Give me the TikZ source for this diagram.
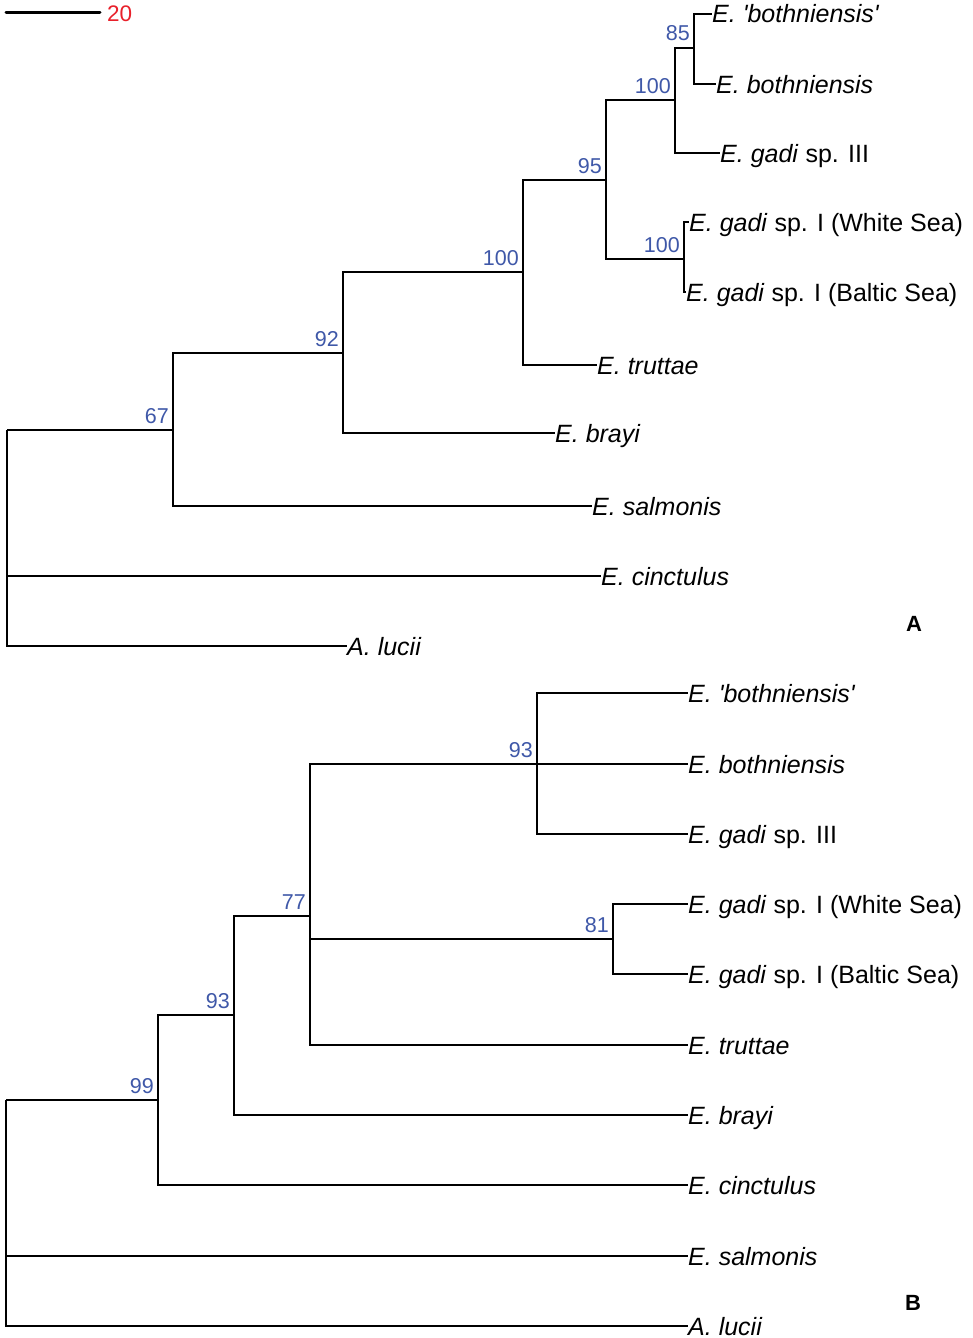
\documentclass[tikz,border=0pt]{standalone}
\usepackage{fontspec}
\setmainfont{Liberation Sans}[Ligatures=TeXOff]
\usepackage{xcolor}
\usepackage{tikz}
\definecolor{supblue}{HTML}{3F58A8}
\definecolor{barred}{HTML}{E8202A}
\tikzset{
	branch/.style={line width=1.3pt, black},
	taxon/.style={anchor=west, inner sep=0pt, text height=18pt, text depth=0pt, font=\fontsize{25}{28}\selectfont},
	support/.style={anchor=base east, inner sep=0pt, xshift=-4pt, yshift=7pt, text=supblue, font=\fontsize{21.5}{24}\selectfont},
	panel/.style={inner sep=0pt, font=\fontsize{22}{24}\selectfont\bfseries}
}

\begin{document}
\begin{tikzpicture}[x=1pt, y=-1pt]
		\useasboundingbox (0,0) rectangle (973,1338);

		\coordinate (barL) at (6,13);
		\coordinate (barR) at (100,13);
		\draw[line width=3pt, line cap=round] (barL) -- (barR);
		\node[anchor=base west, inner sep=0pt, text=barred, font=\fontsize{22.5}{24}\selectfont] (barlab) at (107,22) {20};

		\coordinate (rA) at (7,430);
		\coordinate (a67) at (173,430);
		\coordinate (a92) at (343,353);
		\coordinate (a100) at (523,272);
		\coordinate (a95) at (606,180);
		\coordinate (a100b) at (675,100);
		\coordinate (a85) at (694,48);
		\coordinate (a100c) at (684,259);

		\node[taxon] (tA1) at (712,14) {\textit{E. 'bothniensis'}};
		\node[taxon] (tA2) at (716,84) {\textit{E. bothniensis}};
		\node[taxon] (tA3) at (720,153) {\textit{E. gadi} sp. III};
		\node[taxon] (tA4) at (689,222) {\textit{E. gadi} sp. I (White Sea)};
		\node[taxon] (tA5) at (686,292) {\textit{E. gadi} sp. I (Baltic Sea)};
		\node[taxon] (tA6) at (597,365) {\textit{E. truttae}};
		\node[taxon] (tA7) at (555,433) {\textit{E. brayi}};
		\node[taxon] (tA8) at (592,506) {\textit{E. salmonis}};
		\node[taxon] (tA9) at (601,576) {\textit{E. cinctulus}};
		\node[taxon] (tA10) at (347,646) {\textit{A. lucii}};

		\foreach \p/\c in {rA/a67, a67/a92, a92/a100, a100/a95, a95/a100b, a95/a100c, a100b/a85}
			\draw[branch] (\p) |- (\c);
		\foreach \p/\c in {a85/tA1, a85/tA2, a100b/tA3, a100c/tA4, a100c/tA5, a100/tA6, a92/tA7, a67/tA8, rA/tA9, rA/tA10}
			\draw[branch] (\p) |- (\c.west);

		\node[support] (sA67) at (a67) {67};
		\node[support] (sA92) at (a92) {92};
		\node[support] (sA100) at (a100) {100};
		\node[support] (sA95) at (a95) {95};
		\node[support] (sA100b) at (a100b) {100};
		\node[support] (sA85) at (a85) {85};
		\node[support] (sA100c) at (a100c) {100};
		\node[panel] (panA) at (914,624) {A};

		\coordinate (rB) at (6,1100);
		\coordinate (b99) at (158,1100);
		\coordinate (b93) at (234,1015);
		\coordinate (b77) at (310,916);
		\coordinate (b93t) at (537,764);
		\coordinate (b81) at (613,939);

		\node[taxon] (tB1) at (688,693) {\textit{E. 'bothniensis'}};
		\node[taxon] (tB2) at (688,764) {\textit{E. bothniensis}};
		\node[taxon] (tB3) at (688,834) {\textit{E. gadi} sp. III};
		\node[taxon] (tB4) at (688,904) {\textit{E. gadi} sp. I (White Sea)};
		\node[taxon] (tB5) at (688,974) {\textit{E. gadi} sp. I (Baltic Sea)};
		\node[taxon] (tB6) at (688,1045) {\textit{E. truttae}};
		\node[taxon] (tB7) at (688,1115) {\textit{E. brayi}};
		\node[taxon] (tB8) at (688,1185) {\textit{E. cinctulus}};
		\node[taxon] (tB9) at (688,1256) {\textit{E. salmonis}};
		\node[taxon] (tB10) at (688,1326) {\textit{A. lucii}};

		\foreach \p/\c in {rB/b99, b99/b93, b93/b77, b77/b93t, b77/b81}
			\draw[branch] (\p) |- (\c);
		\foreach \p/\c in {b93t/tB1, b93t/tB2, b93t/tB3, b81/tB4, b81/tB5, b77/tB6, b93/tB7, b99/tB8, rB/tB9, rB/tB10}
			\draw[branch] (\p) |- (\c.west);

		\node[support] (sB99) at (b99) {99};
		\node[support] (sB93) at (b93) {93};
		\node[support] (sB77) at (b77) {77};
		\node[support] (sB93t) at (b93t) {93};
		\node[support] (sB81) at (b81) {81};
		\node[panel] (panB) at (913,1303) {B};
	\end{tikzpicture}
\end{document}
